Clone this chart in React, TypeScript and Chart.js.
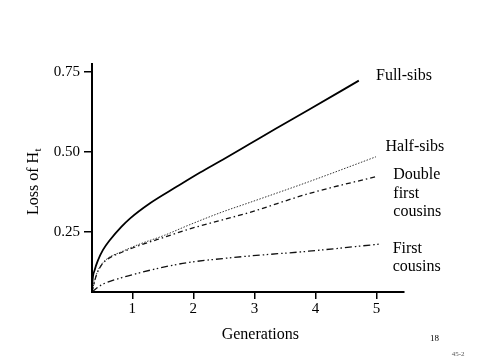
import React, { useEffect, useRef } from "react";
import { Chart, registerables } from "chart.js";
Chart.register(...registerables);

// ---- data ----
const fullSibsGen = [0.34, 0.35, 0.384, 0.44, 0.52, 0.634, 0.82, 0.96, 1.29, 1.73, 2.11, 2.48, 2.92, 3.34, 3.89, 4.71];
const fullSibsLoss = [0.0625, 0.1, 0.131, 0.1625, 0.194, 0.225, 0.266, 0.292, 0.34, 0.392, 0.436, 0.476, 0.525, 0.572, 0.632, 0.723];

const halfSibsGen = [0.34, 0.41, 0.49, 0.6, 0.82, 1.09, 1.53, 1.93, 2.48, 2.92, 3.89, 4.99];
const halfSibsLoss = [0.0625, 0.116, 0.147, 0.168, 0.188, 0.21, 0.24, 0.272, 0.313, 0.342, 0.407, 0.485];

const doubleFirstGen = [0.34, 0.41, 0.49, 0.6, 0.82, 1.09, 1.53, 1.93, 2.48, 2.92, 3.89, 4.99];
const doubleFirstLoss = [0.0625, 0.114, 0.145, 0.166, 0.186, 0.206, 0.234, 0.259, 0.288, 0.311, 0.37, 0.423];

const firstCousinsGen = [0.34, 0.49, 0.82, 1.09, 1.53, 1.93, 2.48, 2.92, 3.89, 5.04];
const firstCousinsLoss = [0.0625, 0.084, 0.107, 0.121, 0.141, 0.155, 0.167, 0.175, 0.19, 0.212];

const xTickValues = [1, 2, 3, 4, 5];
const yTickValues = [0.25, 0.5, 0.75];

const seriesNames = ["Full-sibs", "Half-sibs", "Double first cousins", "First cousins"];
const seriesLabelLines = [["Full-sibs"], ["Half-sibs"], ["Double", "first", "cousins"], ["First", "cousins"]];

const xTitle = "Generations";
const yTitleMain = "Loss of H";
const yTitleSub = "t";
const pageNumber = "18";
const slideCode = "45-2";

// ---- layout / style ----
const FONT = "'Liberation Serif', 'Times New Roman', serif";
const labelPos = [
  { x: 376, y: 80, lh: 18.7 },
  { x: 385.5, y: 150.7, lh: 18.7 },
  { x: 393.3, y: 179, lh: 18.7 },
  { x: 392.7, y: 252.7, lh: 18.5 },
];

const toPts = (xs: number[], ys: number[]) => xs.map((x, i) => ({ x, y: ys[i] }));

const textPlugin = {
  id: "textPlugin",
  afterDraw(chart: any) {
    const ctx = chart.ctx as CanvasRenderingContext2D;
    ctx.save();
    ctx.fillStyle = "#000";
    ctx.textBaseline = "alphabetic";
    ctx.textAlign = "left";
    // series labels
    ctx.font = `16px ${FONT}`;
    seriesLabelLines.forEach((lines, i) => {
      const p = labelPos[i];
      lines.forEach((t, j) => ctx.fillText(t, p.x, p.y + j * p.lh));
    });
    // x title
    ctx.fillText(xTitle, 221.7, 338.5);
    // y title rotated with subscript
    ctx.save();
    ctx.translate(38, 215);
    ctx.rotate(-Math.PI / 2);
    ctx.font = `16px ${FONT}`;
    ctx.fillText(yTitleMain, 0, 0);
    const w = ctx.measureText(yTitleMain).width;
    ctx.font = `11px ${FONT}`;
    ctx.fillText(yTitleSub, w + 0.5, 3);
    ctx.restore();
    // footer
    ctx.font = `9px ${FONT}`;
    ctx.fillText(pageNumber, 430, 340.7);
    ctx.fillStyle = "#555";
    ctx.font = `7px ${FONT}`;
    ctx.fillText(slideCode, 451.7, 356);
    ctx.restore();
  },
};

export default function App() {
  const ref = useRef<HTMLCanvasElement | null>(null);
  useEffect(() => {
    if (!ref.current) return;
    const common = { pointRadius: 0, fill: false, cubicInterpolationMode: "monotone" as const };
    const chart = new Chart(ref.current, {
      type: "line",
      data: {
        datasets: [
          { ...common, label: seriesNames[0], data: toPts(fullSibsGen, fullSibsLoss), borderColor: "#000", borderWidth: 1.8 },
          { ...common, label: seriesNames[1], data: toPts(halfSibsGen, halfSibsLoss), borderColor: "#333", borderWidth: 1, borderDash: [1.5, 1.5] },
          { ...common, label: seriesNames[2], data: toPts(doubleFirstGen, doubleFirstLoss), borderColor: "#111", borderWidth: 1.3, borderDash: [5, 3, 1.5, 3] },
          { ...common, label: seriesNames[3], data: toPts(firstCousinsGen, firstCousinsLoss), borderColor: "#111", borderWidth: 1.3, borderDash: [7, 3, 1.5, 2.5, 1.5, 3] },
        ],
      },
      options: {
        animation: false,
        responsive: false,
        layout: { padding: { top: 64, right: 76, left: 0, bottom: 0 } },
        plugins: { legend: { display: false }, tooltip: { enabled: false } },
        scales: {
          x: {
            type: "linear",
            min: 0.34,
            max: 5.45,
            afterBuildTicks: (s: any) => { s.ticks = xTickValues.map((v) => ({ value: v })); },
            afterFit: (s: any) => { s.height = 68; },
            ticks: { color: "#000", font: { family: FONT, size: 15 }, padding: 1, maxRotation: 0, autoSkip: false, callback: (v: any) => String(v) },
            grid: { drawOnChartArea: false, drawTicks: true, tickLength: 7, color: "#000", lineWidth: 1.5 },
            border: { color: "#000", width: 2 },
          },
          y: {
            type: "linear",
            min: 0.0625,
            max: 0.775,
            afterBuildTicks: (s: any) => { s.ticks = yTickValues.map((v) => ({ value: v })); },
            afterFit: (s: any) => { s.width = 92; },
            ticks: { color: "#000", font: { family: FONT, size: 15 }, padding: 4, autoSkip: false, callback: (v: any) => Number(v).toFixed(2) },
            grid: { drawOnChartArea: false, drawTicks: true, tickLength: 8, color: "#000", lineWidth: 1.5 },
            border: { color: "#000", width: 2 },
          },
        },
      },
      plugins: [textPlugin],
    });
    return () => chart.destroy();
  }, []);
  return (
    <div style={{ position: "fixed", left: 0, top: 0, width: 480, height: 360, background: "#fff" }}>
      <canvas ref={ref} width={480} height={360} style={{ width: 480, height: 360, display: "block" }} />
    </div>
  );
}
